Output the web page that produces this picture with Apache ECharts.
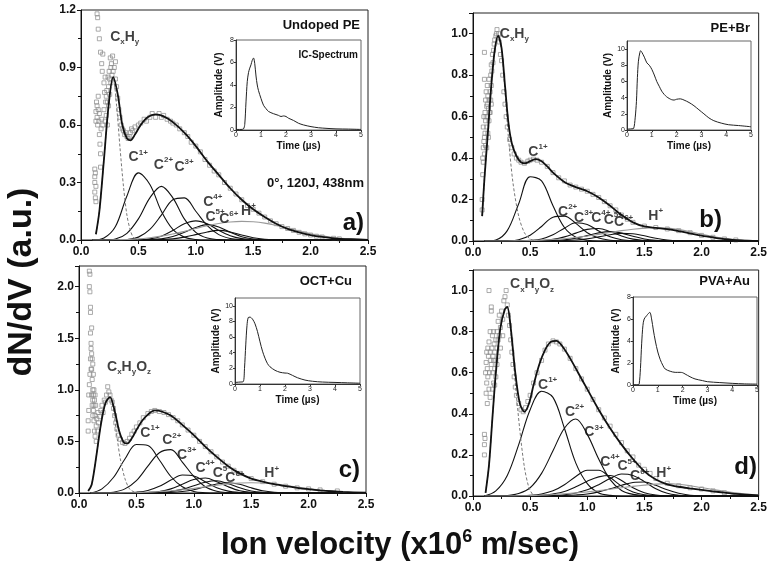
<!DOCTYPE html>
<html><head><meta charset="utf-8">
<script src="https://cdn.jsdelivr.net/npm/echarts@6/dist/echarts.min.js"></script>
<style>html,body{margin:0;padding:0;background:#fff}#c{width:770px;height:564px}</style>
</head><body><div id="c"></div>
<script>
// ---------- DATA ----------
const velX = [0.1,0.2,0.3,0.4,0.5,0.6,0.7,0.8,0.9,1.0,1.1,1.2,1.3,1.4,1.5,1.6,1.7,1.8,1.9,2.0,2.1,2.2,2.3,2.4,2.5];
const xTicks = [0,0.5,1.0,1.5,2.0,2.5];
const timeTicks = [0,1,2,3,4,5];

// Panel a: Undoped PE
const totalA = [[0.13,0.03],[0.16,0.15],[0.2,0.42],[0.24,0.7],[0.28,0.85],[0.32,0.76],[0.36,0.6],[0.4,0.53],[0.43,0.52],[0.47,0.55],[0.52,0.6],[0.58,0.64],[0.65,0.655],[0.72,0.645],[0.8,0.615],[0.9,0.56],[1.0,0.49],[1.1,0.41],[1.2,0.34],[1.3,0.27],[1.4,0.21],[1.5,0.16],[1.6,0.12],[1.7,0.085],[1.8,0.058],[1.9,0.04],[2.0,0.026],[2.1,0.016],[2.2,0.009],[2.35,0.004],[2.5,0.001]];
const cxA = [[0.13,0.03],[0.16,0.15],[0.2,0.42],[0.24,0.7],[0.28,0.85],[0.31,0.7],[0.34,0.48],[0.37,0.28],[0.4,0.13],[0.43,0.05],[0.46,0.01],[0.5,0]];
const c1A = [0,0.01,0.07,0.23,0.35,0.29,0.15,0.055,0.015,0.003,0,0,0,0,0,0,0,0,0,0,0,0,0,0,0];
const c2A = [0,0,0.005,0.035,0.11,0.22,0.28,0.22,0.11,0.04,0.01,0.002,0,0,0,0,0,0,0,0,0,0,0,0,0];
const c3A = [0,0,0,0.003,0.015,0.055,0.13,0.21,0.22,0.15,0.075,0.028,0.008,0.002,0,0,0,0,0,0,0,0,0,0,0];
const c4A = [0,0,0,0,0.002,0.006,0.02,0.05,0.085,0.1,0.085,0.05,0.022,0.007,0.002,0,0,0,0,0,0,0,0,0,0];
const c5A = [0,0,0,0,0,0.002,0.006,0.018,0.04,0.065,0.08,0.068,0.04,0.017,0.005,0.001,0,0,0,0,0,0,0,0,0];
const c6A = [0,0,0,0,0,0,0.002,0.006,0.015,0.028,0.042,0.05,0.042,0.026,0.012,0.004,0.001,0,0,0,0,0,0,0,0];
const hA  = [0,0,0.001,0.003,0.006,0.012,0.02,0.031,0.045,0.06,0.074,0.086,0.094,0.097,0.095,0.088,0.076,0.062,0.047,0.033,0.022,0.013,0.007,0.004,0.002];
const ptsA = [[0.12,0.37],[0.12,0.33],[0.12,0.3],[0.12,0.25],[0.125,0.22],[0.13,0.2],[0.125,0.35],[0.13,0.28],[0.13,0.62],[0.13,0.67],[0.135,0.72],[0.14,0.7],[0.14,0.64],[0.145,0.6],[0.15,0.68],[0.15,0.75],[0.155,0.62],[0.16,0.66],[0.16,0.55],[0.165,0.5],[0.17,0.45],[0.17,0.38],[0.175,0.58],[0.18,0.63],[0.14,1.18],[0.145,1.16],[0.15,1.1],[0.16,1.05],[0.17,0.98],[0.18,0.92],[0.185,0.88],[0.19,0.97],[0.2,0.82],[0.205,0.77],[0.21,0.85],[0.215,0.72],[0.22,0.65],[0.225,0.78],[0.23,0.6],[0.235,0.85],[0.24,0.7],[0.245,0.88],[0.25,0.76],[0.255,0.95],[0.26,0.82],[0.265,0.92],[0.27,0.86],[0.275,0.96],[0.28,0.88],[0.29,0.9],[0.3,0.93],[0.3,0.84],[0.19,0.6],[0.2,0.68],[0.21,0.62],[0.22,0.75],[0.23,0.72],[0.24,0.8],[0.25,0.84],[0.26,0.9],[0.31,0.8],[0.32,0.74],[0.33,0.68],[0.34,0.64],[0.35,0.6],[0.36,0.58],[0.37,0.57],[0.38,0.55],[0.39,0.56],[0.4,0.54],[0.41,0.53],[0.42,0.54],[0.43,0.56],[0.44,0.58],[0.45,0.57],[0.47,0.59],[0.5,0.6],[0.52,0.61],[0.55,0.63],[0.57,0.62],[0.6,0.64],[0.62,0.66],[0.65,0.64],[0.68,0.66],[0.7,0.64],[0.72,0.65],[0.75,0.63],[0.78,0.62],[0.8,0.61],[0.83,0.6],[0.86,0.58],[0.9,0.56],[0.93,0.54],[0.96,0.51],[1.0,0.49],[1.04,0.46],[1.08,0.42],[1.12,0.39],[1.16,0.36],[1.2,0.34],[1.25,0.3],[1.3,0.27],[1.35,0.24],[1.4,0.21],[1.45,0.18],[1.5,0.16],[1.55,0.14],[1.6,0.12],[1.65,0.1],[1.7,0.085],[1.75,0.07],[1.8,0.06],[1.85,0.05],[1.9,0.04],[1.95,0.032],[2.0,0.026],[2.05,0.02],[2.1,0.016],[2.2,0.009],[2.25,0.006]];
const icA = [[0,0.05],[0.2,0.05],[0.3,0.1],[0.35,0.5],[0.4,2.5],[0.45,4.3],[0.5,5.1],[0.55,5.5],[0.6,5.8],[0.65,6.2],[0.7,6.4],[0.75,5.9],[0.8,4.8],[0.85,4.0],[0.9,3.5],[1.0,2.8],[1.1,2.2],[1.2,1.9],[1.3,1.65],[1.5,1.45],[1.7,1.3],[1.8,1.2],[1.9,1.25],[2.0,1.2],[2.1,1.05],[2.3,0.85],[2.5,0.6],[2.7,0.45],[3.0,0.3],[3.3,0.2],[3.6,0.15],[4.0,0.1],[4.5,0.08],[5.0,0.05]];
const labA = [[0.25,1.06,'{b|C}{d|x}{b|H}{d|y}'],[0.41,0.43,'{b|C}{u|1+}'],[0.63,0.39,'{b|C}{u|2+}'],[0.81,0.38,'{b|C}{u|3+}'],[1.06,0.2,'{b|C}{u|4+}'],[1.08,0.12,'{b|C}{u|5+}'],[1.2,0.11,'{b|C}{u|6+}'],[1.39,0.15,'{b|H}{u|+}']];

// Panel b: PE+Br
const totalB = [[0.08,0.12],[0.1,0.3],[0.13,0.52],[0.16,0.75],[0.19,0.92],[0.22,0.99],[0.25,0.93],[0.28,0.75],[0.31,0.57],[0.34,0.47],[0.38,0.41],[0.42,0.38],[0.46,0.375],[0.5,0.385],[0.55,0.395],[0.6,0.385],[0.65,0.36],[0.7,0.33],[0.8,0.285],[0.9,0.26],[1.0,0.24],[1.1,0.21],[1.2,0.17],[1.3,0.125],[1.4,0.09],[1.5,0.07],[1.6,0.063],[1.7,0.057],[1.8,0.048],[1.9,0.037],[2.0,0.026],[2.1,0.017],[2.2,0.009],[2.35,0.003],[2.5,0]];
const cxB = [[0.08,0.12],[0.1,0.3],[0.13,0.52],[0.16,0.75],[0.19,0.92],[0.22,0.99],[0.25,0.92],[0.28,0.72],[0.31,0.5],[0.35,0.28],[0.4,0.12],[0.45,0.04],[0.5,0.01],[0.55,0]];
const c1B = [0,0.005,0.05,0.18,0.31,0.29,0.17,0.065,0.018,0.004,0,0,0,0,0,0,0,0,0,0,0,0,0,0,0];
const c2B = [0,0,0,0.006,0.028,0.07,0.115,0.12,0.085,0.04,0.014,0.004,0,0,0,0,0,0,0,0,0,0,0,0,0];
const c3B = [0,0,0,0,0.003,0.01,0.03,0.062,0.088,0.08,0.048,0.02,0.006,0.001,0,0,0,0,0,0,0,0,0,0,0];
const c4B = [0,0,0,0,0,0.002,0.008,0.02,0.038,0.056,0.06,0.045,0.024,0.009,0.003,0,0,0,0,0,0,0,0,0,0];
const c5B = [0,0,0,0,0,0,0.002,0.006,0.014,0.026,0.039,0.045,0.038,0.023,0.01,0.003,0,0,0,0,0,0,0,0,0];
const c6B = [0,0,0,0,0,0,0,0.002,0.005,0.011,0.02,0.03,0.037,0.035,0.025,0.013,0.005,0.001,0,0,0,0,0,0,0];
const hB  = [0,0,0,0.001,0.002,0.004,0.007,0.011,0.017,0.024,0.032,0.041,0.05,0.057,0.062,0.064,0.062,0.055,0.045,0.033,0.022,0.013,0.006,0.003,0.001];
const ptsB = [[0.08,0.2],[0.08,0.15],[0.085,0.4],[0.09,0.45],[0.09,0.55],[0.095,0.6],[0.1,0.91],[0.1,0.78],[0.1,0.5],[0.105,0.62],[0.11,0.58],[0.11,0.68],[0.115,0.72],[0.12,0.65],[0.12,0.55],[0.125,0.75],[0.13,0.7],[0.13,0.6],[0.135,0.5],[0.14,0.68],[0.14,0.78],[0.145,0.62],[0.15,0.72],[0.155,0.8],[0.16,0.75],[0.16,0.85],[0.165,0.82],[0.17,0.9],[0.175,0.86],[0.18,0.92],[0.185,0.95],[0.19,0.97],[0.085,0.32],[0.09,0.38],[0.095,0.48],[0.1,0.42],[0.105,0.52],[0.11,0.46],[0.115,0.6],[0.12,0.45],[0.125,0.66],[0.13,0.52],[0.135,0.64],[0.14,0.58],[0.15,0.62],[0.155,0.68],[0.16,0.66],[0.2,0.99],[0.205,1.0],[0.21,1.02],[0.22,0.98],[0.225,1.0],[0.23,0.96],[0.24,0.9],[0.25,0.87],[0.26,0.8],[0.27,0.72],[0.28,0.66],[0.29,0.6],[0.3,0.55],[0.32,0.49],[0.34,0.45],[0.36,0.42],[0.38,0.4],[0.4,0.39],[0.42,0.38],[0.45,0.375],[0.48,0.385],[0.5,0.39],[0.53,0.395],[0.56,0.39],[0.6,0.38],[0.65,0.36],[0.7,0.33],[0.75,0.305],[0.8,0.29],[0.85,0.27],[0.9,0.26],[0.95,0.25],[1.0,0.24],[1.05,0.225],[1.1,0.21],[1.15,0.19],[1.2,0.17],[1.25,0.15],[1.3,0.125],[1.35,0.105],[1.4,0.09],[1.5,0.072],[1.6,0.065],[1.7,0.058],[1.8,0.05],[1.9,0.04],[2.0,0.027],[2.1,0.018],[2.2,0.01],[2.3,0.005]];
const icB = [[0,0.1],[0.2,0.15],[0.27,0.2],[0.33,1.5],[0.38,3.5],[0.42,6.5],[0.46,8.5],[0.52,9.6],[0.55,9.8],[0.6,9.6],[0.7,9.0],[0.8,8.3],[0.9,8.0],[1.0,7.5],[1.1,6.8],[1.2,6.0],[1.3,5.4],[1.4,4.8],[1.5,4.4],[1.6,4.1],[1.7,3.9],[1.8,3.75],[1.9,3.7],[2.0,3.8],[2.15,3.85],[2.3,3.7],[2.5,3.4],[2.7,3.0],[2.9,2.5],[3.1,2.0],[3.3,1.5],[3.5,1.15],[3.8,0.85],[4.1,0.65],[4.5,0.55],[5.0,0.4]];
const labB = [[0.23,1.0,'{b|C}{d|x}{b|H}{d|y}'],[0.48,0.43,'{b|C}{u|1+}'],[0.74,0.14,'{b|C}{u|2+}'],[0.88,0.11,'{b|C}{u|3+}'],[1.03,0.11,'{b|C}{u|4+}'],[1.14,0.1,'{b|C}{u|5+}'],[1.23,0.09,'{b|C}{u|6+}'],[1.53,0.12,'{b|H}{u|+}']];

// Panel c: OCT+Cu
const totalC = [[0.08,0.02],[0.11,0.08],[0.15,0.35],[0.19,0.66],[0.23,0.87],[0.27,0.93],[0.31,0.8],[0.35,0.6],[0.39,0.49],[0.42,0.48],[0.46,0.53],[0.5,0.61],[0.55,0.7],[0.6,0.76],[0.66,0.8],[0.72,0.79],[0.8,0.75],[0.9,0.66],[1.0,0.56],[1.1,0.45],[1.2,0.35],[1.3,0.26],[1.4,0.19],[1.5,0.14],[1.6,0.11],[1.7,0.085],[1.8,0.066],[1.9,0.05],[2.0,0.037],[2.1,0.026],[2.2,0.017],[2.3,0.01],[2.5,0.003]];
const cxC = [[0.08,0.02],[0.11,0.08],[0.15,0.35],[0.19,0.66],[0.23,0.87],[0.27,0.93],[0.3,0.8],[0.33,0.55],[0.36,0.33],[0.4,0.14],[0.44,0.04],[0.48,0.01],[0.52,0]];
const c1C = [0,0.04,0.15,0.33,0.47,0.46,0.32,0.16,0.06,0.015,0.003,0,0,0,0,0,0,0,0,0,0,0,0,0,0];
const c2C = [0,0,0.008,0.04,0.12,0.26,0.39,0.42,0.3,0.16,0.06,0.017,0.004,0,0,0,0,0,0,0,0,0,0,0,0];
const c3C = [0,0,0,0.002,0.008,0.025,0.065,0.125,0.175,0.165,0.11,0.05,0.018,0.005,0,0,0,0,0,0,0,0,0,0,0];
const c4C = [0,0,0,0,0.001,0.005,0.015,0.04,0.085,0.13,0.145,0.11,0.06,0.022,0.006,0.001,0,0,0,0,0,0,0,0,0];
const c5C = [0,0,0,0,0,0.002,0.006,0.015,0.035,0.07,0.105,0.118,0.09,0.05,0.02,0.006,0.001,0,0,0,0,0,0,0,0];
const c6C = [0,0,0,0,0,0,0.002,0.006,0.015,0.032,0.06,0.088,0.1,0.085,0.05,0.022,0.007,0.002,0,0,0,0,0,0,0];
const hC  = [0,0,0,0.002,0.004,0.008,0.014,0.022,0.032,0.045,0.06,0.075,0.088,0.097,0.1,0.097,0.088,0.074,0.058,0.043,0.029,0.018,0.01,0.005,0.002];
const ptsC = [[0.08,0.6],[0.08,0.7],[0.085,0.8],[0.09,2.15],[0.095,2.12],[0.09,2.0],[0.095,1.95],[0.1,1.75],[0.1,1.8],[0.1,1.55],[0.105,1.45],[0.105,1.4],[0.11,1.6],[0.11,1.35],[0.11,1.2],[0.115,1.3],[0.115,1.1],[0.12,1.25],[0.12,1.0],[0.12,0.9],[0.125,1.15],[0.125,0.8],[0.13,1.0],[0.13,0.7],[0.135,0.9],[0.135,0.6],[0.14,0.75],[0.14,0.55],[0.145,0.85],[0.15,0.65],[0.15,0.5],[0.155,0.72],[0.16,0.6],[0.165,0.78],[0.17,0.68],[0.085,0.95],[0.09,1.05],[0.095,1.15],[0.1,1.3],[0.105,1.2],[0.11,0.95],[0.115,0.85],[0.12,0.75],[0.125,0.95],[0.13,0.85],[0.14,0.95],[0.18,0.74],[0.19,0.8],[0.2,0.85],[0.21,0.78],[0.22,0.9],[0.23,0.88],[0.24,0.95],[0.25,1.03],[0.26,0.98],[0.27,0.95],[0.28,0.9],[0.29,0.88],[0.3,0.82],[0.31,0.75],[0.32,0.68],[0.33,0.62],[0.34,0.56],[0.36,0.52],[0.38,0.49],[0.4,0.48],[0.42,0.5],[0.44,0.53],[0.46,0.57],[0.48,0.6],[0.5,0.64],[0.53,0.68],[0.56,0.73],[0.6,0.77],[0.63,0.79],[0.66,0.8],[0.7,0.79],[0.74,0.78],[0.78,0.76],[0.82,0.73],[0.86,0.7],[0.9,0.66],[0.95,0.61],[1.0,0.56],[1.05,0.5],[1.1,0.45],[1.15,0.4],[1.2,0.35],[1.25,0.3],[1.3,0.26],[1.35,0.22],[1.4,0.19],[1.5,0.14],[1.6,0.11],[1.7,0.085],[1.8,0.066],[1.9,0.05],[2.0,0.04],[2.1,0.03],[2.25,0.02]];
const icC = [[0,0.2],[0.2,0.25],[0.33,0.3],[0.38,2.0],[0.43,5.0],[0.48,7.5],[0.53,8.5],[0.6,8.55],[0.7,8.3],[0.8,7.7],[0.9,6.7],[1.0,5.4],[1.1,4.2],[1.2,3.3],[1.3,2.6],[1.4,2.2],[1.6,1.75],[1.8,1.5],[2.0,1.4],[2.1,1.38],[2.3,1.1],[2.5,0.8],[2.8,0.5],[3.1,0.35],[3.5,0.25],[4.0,0.2],[4.5,0.15],[5.0,0.1]];
const labC = [[0.24,1.22,'{b|C}{d|x}{b|H}{d|y}{b|O}{d|z}'],[0.53,0.58,'{b|C}{u|1+}'],[0.72,0.51,'{b|C}{u|2+}'],[0.85,0.37,'{b|C}{u|3+}'],[1.01,0.24,'{b|C}{u|4+}'],[1.16,0.19,'{b|C}{u|5}'],[1.27,0.14,'{b|C}{u|6+}'],[1.61,0.19,'{b|H}{u|+}']];

// Panel d: PVA+Au
const totalD = [[0.11,0.015],[0.14,0.15],[0.17,0.38],[0.2,0.6],[0.24,0.82],[0.28,0.91],[0.3,0.92],[0.33,0.82],[0.37,0.6],[0.41,0.45],[0.45,0.41],[0.49,0.45],[0.53,0.54],[0.58,0.64],[0.63,0.71],[0.68,0.75],[0.73,0.755],[0.78,0.73],[0.85,0.67],[0.92,0.6],[1.0,0.52],[1.1,0.42],[1.2,0.33],[1.3,0.25],[1.4,0.18],[1.5,0.12],[1.6,0.08],[1.7,0.057],[1.8,0.045],[1.9,0.037],[2.0,0.03],[2.1,0.023],[2.2,0.016],[2.3,0.01],[2.5,0.003]];
const cxD = [[0.11,0.015],[0.14,0.15],[0.17,0.38],[0.2,0.6],[0.24,0.82],[0.28,0.91],[0.3,0.92],[0.33,0.8],[0.37,0.55],[0.41,0.32],[0.45,0.14],[0.49,0.04],[0.53,0]];
const c1D = [0,0.025,0.1,0.25,0.42,0.51,0.48,0.33,0.16,0.06,0.015,0.003,0,0,0,0,0,0,0,0,0,0,0,0,0];
const c2D = [0,0,0.002,0.012,0.04,0.11,0.22,0.33,0.375,0.3,0.18,0.08,0.027,0.008,0.002,0,0,0,0,0,0,0,0,0,0];
const c3D = [0,0,0,0,0.003,0.01,0.025,0.055,0.095,0.125,0.125,0.09,0.048,0.02,0.006,0.001,0,0,0,0,0,0,0,0,0];
const c4D = [0,0,0,0,0,0.003,0.01,0.022,0.045,0.072,0.093,0.1,0.075,0.04,0.016,0.005,0.001,0,0,0,0,0,0,0,0];
const c5D = [0,0,0,0,0,0,0.002,0.006,0.015,0.03,0.055,0.085,0.107,0.1,0.07,0.035,0.013,0.004,0,0,0,0,0,0,0];
const c6D = [0,0,0,0,0,0,0,0.002,0.005,0.01,0.02,0.035,0.052,0.066,0.068,0.052,0.03,0.013,0.004,0.001,0,0,0,0,0];
const hD  = [0,0,0,0.001,0.002,0.004,0.007,0.011,0.015,0.02,0.026,0.033,0.04,0.047,0.053,0.058,0.06,0.057,0.05,0.041,0.032,0.023,0.015,0.009,0.005];
const ptsD = [[0.1,0.3],[0.1,0.25],[0.1,0.2],[0.105,0.28],[0.11,0.6],[0.115,0.65],[0.12,0.7],[0.12,0.55],[0.125,0.62],[0.13,0.72],[0.13,0.58],[0.135,0.68],[0.14,0.75],[0.14,1.0],[0.145,0.6],[0.15,0.7],[0.15,0.8],[0.155,0.66],[0.16,0.92],[0.16,0.9],[0.165,0.72],[0.17,0.78],[0.17,0.6],[0.175,0.68],[0.18,0.8],[0.18,0.55],[0.185,0.74],[0.19,0.7],[0.19,0.62],[0.2,0.76],[0.2,0.58],[0.21,0.72],[0.21,0.8],[0.22,0.68],[0.22,0.85],[0.23,0.78],[0.23,0.88],[0.24,0.82],[0.25,0.9],[0.26,0.86],[0.27,0.95],[0.28,0.97],[0.29,1.0],[0.115,0.5],[0.125,0.45],[0.14,0.52],[0.15,0.48],[0.16,0.64],[0.17,0.52],[0.18,0.66],[0.19,0.54],[0.2,0.66],[0.21,0.64],[0.22,0.76],[0.24,0.72],[0.26,0.78],[0.3,0.93],[0.31,0.88],[0.32,0.83],[0.33,0.76],[0.34,0.7],[0.35,0.64],[0.36,0.58],[0.37,0.53],[0.38,0.49],[0.4,0.45],[0.42,0.42],[0.44,0.41],[0.46,0.43],[0.48,0.46],[0.5,0.49],[0.53,0.55],[0.56,0.6],[0.6,0.66],[0.63,0.71],[0.66,0.74],[0.7,0.755],[0.73,0.75],[0.76,0.74],[0.8,0.715],[0.85,0.67],[0.9,0.62],[0.95,0.57],[1.0,0.52],[1.05,0.47],[1.1,0.42],[1.15,0.38],[1.2,0.34],[1.25,0.3],[1.3,0.26],[1.35,0.22],[1.4,0.19],[1.45,0.15],[1.5,0.13],[1.55,0.11],[1.6,0.085],[1.7,0.062],[1.8,0.05],[1.9,0.04],[2.0,0.034],[2.1,0.025],[2.2,0.016]];
const icD = [[0,0.02],[0.2,0.02],[0.25,0.1],[0.3,1.5],[0.35,3.8],[0.4,5.4],[0.45,6.0],[0.55,6.3],[0.62,6.5],[0.68,6.6],[0.75,6.0],[0.82,5.0],[0.9,4.0],[1.0,3.0],[1.1,2.3],[1.2,1.8],[1.3,1.45],[1.5,1.25],[1.7,1.15],[1.9,1.15],[2.0,1.12],[2.1,1.0],[2.3,0.75],[2.5,0.55],[2.8,0.4],[3.0,0.3],[3.5,0.22],[4.0,0.15],[4.5,0.1],[5.0,0.08]];
const labD = [[0.32,1.03,'{b|C}{d|x}{b|H}{d|y}{b|O}{d|z}'],[0.565,0.54,'{b|C}{u|1+}'],[0.8,0.41,'{b|C}{u|2+}'],[0.97,0.31,'{b|C}{u|3+}'],[1.11,0.167,'{b|C}{u|4+}'],[1.26,0.143,'{b|C}{u|5+}'],[1.37,0.095,'{b|C}{u|6+}'],[1.6,0.11,'{b|H}{u|+}']];

// ---------- LAYOUT / STYLE ----------
const FONT = '"Liberation Sans", Arial, sans-serif';
const panels = [
  {grid:{left:81,top:10,width:287,height:230}, ymax:1.2, yint:0.3, tot:totalA, cx:cxA, comps:[c1A,c2A,c3A,c4A,c5A,c6A], h:hA, pts:ptsA, labs:labA,
   inset:{left:236,top:40,width:125,height:90}, imax:8, ic:icA},
  {grid:{left:473,top:13,width:289,height:228}, ymax:1.1, yint:0.2, tot:totalB, cx:cxB, comps:[c1B,c2B,c3B,c4B,c5B,c6B], h:hB, pts:ptsB, labs:labB,
   inset:{left:627,top:41,width:124,height:89}, imax:11, ic:icB},
  {grid:{left:79,top:266,width:287,height:227}, ymax:2.2, yint:0.5, tot:totalC, cx:cxC, comps:[c1C,c2C,c3C,c4C,c5C,c6C], h:hC, pts:ptsC, labs:labC,
   inset:{left:235,top:298,width:125,height:86}, imax:11, ic:icC},
  {grid:{left:473,top:270,width:289,height:226}, ymax:1.1, yint:0.2, tot:totalD, cx:cxD, comps:[c1D,c2D,c3D,c4D,c5D,c6D], h:hD, pts:ptsD, labs:labD,
   inset:{left:633,top:297,width:124,height:88}, imax:8, ic:icD}
];

const grids=[], xAxes=[], yAxes=[], series=[];
const rich = {
  b:{fontSize:14,fontWeight:'bold',fontFamily:FONT,color:'#111',lineHeight:18},
  u:{fontSize:8,fontWeight:'bold',fontFamily:FONT,color:'#111',lineHeight:8,verticalAlign:'top'},
  d:{fontSize:8,fontWeight:'bold',fontFamily:FONT,color:'#111',lineHeight:8,verticalAlign:'bottom'}
};
panels.forEach((p,i)=>{
  const gi = grids.length;
  grids.push(Object.assign({show:true,borderColor:'#222',borderWidth:1,backgroundColor:'#fff'},p.grid));
  xAxes.push({gridIndex:gi,type:'value',min:0,max:2.5,interval:0.5,
    axisLine:{onZero:false,lineStyle:{color:'#111',width:1}},
    axisTick:{show:true,length:4,lineStyle:{color:'#111'}},
    minorTick:{show:true,splitNumber:2,length:3,lineStyle:{color:'#111'}},
    splitLine:{show:false},
    axisLabel:{fontSize:12,fontWeight:'bold',fontFamily:FONT,color:'#111',margin:6,formatter:v=>v.toFixed(1)}});
  yAxes.push({gridIndex:gi,type:'value',min:0,max:p.ymax,interval:p.yint,
    axisLine:{onZero:false,lineStyle:{color:'#111',width:1}},
    axisTick:{show:true,length:4,lineStyle:{color:'#111'}},
    minorTick:{show:true,splitNumber:2,length:3,lineStyle:{color:'#111'}},
    splitLine:{show:false},
    axisLabel:{fontSize:12,fontWeight:'bold',fontFamily:FONT,color:'#111',margin:5,showMaxLabel:Math.abs(p.ymax/p.yint-Math.round(p.ymax/p.yint))<1e-6,formatter:v=>v.toFixed(1)}});
  // scatter data (open grey squares)
  series.push({type:'scatter',xAxisIndex:gi,yAxisIndex:gi,data:p.pts,symbol:'rect',symbolSize:4,
    itemStyle:{color:'rgba(255,255,255,0)',borderColor:'#8a8a8a',borderWidth:0.9},silent:true,z:2});
  // components
  p.comps.forEach(c=>series.push({type:'line',xAxisIndex:gi,yAxisIndex:gi,data:velX.map((x,k)=>[x,c[k]]),
    showSymbol:false,smooth:0.35,lineStyle:{color:'#111',width:1.1},silent:true,z:3}));
  series.push({type:'line',xAxisIndex:gi,yAxisIndex:gi,data:velX.map((x,k)=>[x,p.h[k]]),
    showSymbol:false,smooth:0.35,lineStyle:{color:'#9a9a9a',width:1.1},silent:true,z:3});
  series.push({type:'line',xAxisIndex:gi,yAxisIndex:gi,data:p.cx,
    showSymbol:false,smooth:0.3,lineStyle:{color:'#777',width:1,type:[3,2]},silent:true,z:3});
  // total fit
  series.push({type:'line',xAxisIndex:gi,yAxisIndex:gi,data:p.tot,
    showSymbol:false,smooth:0.3,lineStyle:{color:'#111',width:1.8},silent:true,z:4});
  // labels
  series.push({type:'scatter',xAxisIndex:gi,yAxisIndex:gi,symbolSize:1,itemStyle:{color:'rgba(0,0,0,0)'},silent:true,z:6,
    data:p.labs.map(l=>({value:[l[0],l[1]],name:l[2]})),
    label:{show:true,position:'right',distance:0,formatter:q=>q.name,rich:rich}});
  // inset
  const ii = grids.length;
  grids.push(Object.assign({show:true,borderColor:'#666',borderWidth:1,backgroundColor:'#fff',z:5},p.inset));
  xAxes.push({gridIndex:ii,type:'value',min:0,max:5,interval:1,z:5,
    name:'Time (\u00b5s)',nameLocation:'middle',nameGap:11,nameTextStyle:{fontSize:10,fontWeight:'bold',fontFamily:FONT,color:'#111'},
    axisLine:{onZero:false,lineStyle:{color:'#333',width:1}},
    axisTick:{show:true,length:2,lineStyle:{color:'#333'}},splitLine:{show:false},
    axisLabel:{fontSize:7,fontFamily:FONT,color:'#222',margin:2}});
  yAxes.push({gridIndex:ii,type:'value',min:0,max:p.imax,interval:2,z:5,
    name:'Amplitude (V)',nameLocation:'middle',nameGap:12,nameTextStyle:{fontSize:10,fontWeight:'bold',fontFamily:FONT,color:'#111'},
    axisLine:{onZero:false,lineStyle:{color:'#333',width:1}},
    axisTick:{show:true,length:2,lineStyle:{color:'#333'}},splitLine:{show:false},
    axisLabel:{fontSize:7,fontFamily:FONT,color:'#222',margin:2,showMaxLabel:p.imax%2===0}});
  series.push({type:'line',xAxisIndex:ii,yAxisIndex:ii,data:p.ic,showSymbol:false,smooth:0.3,
    lineStyle:{color:'#222',width:1},silent:true,z:6});
});

function txt(t,x,y,size,align,extra){
  return Object.assign({type:'text',x:x,y:y,z:100,style:{text:t,fill:'#111',fontSize:size,fontWeight:'bold',fontFamily:FONT,align:align||'right',verticalAlign:'middle'}},extra||{});
}
const graphics = [
  txt('Undoped PE',360,25,13),
  txt('PE+Br',750,28,13),
  txt('OCT+Cu',352,281,13),
  txt('PVA+Au',750,281,13),
  txt('a)',364,223,24),
  txt('b)',722,220,24),
  txt('c)',360,470,24),
  txt('d)',757,467,24),
  txt('0\u00b0, 120J, 438nm',364,183,13),
  txt('IC-Spectrum',358,55,10),
  {type:'text',x:22,y:282,rotation:Math.PI/2,z:100,style:{text:'dN/dV (a.u.)',fill:'#111',fontSize:34,fontWeight:'bold',fontFamily:FONT,align:'center',verticalAlign:'middle'}},
  {type:'text',x:400,y:545,z:100,style:{text:'{m|Ion velocity (x10}{s|6}{m| m/sec)}',align:'center',verticalAlign:'middle',
    rich:{m:{fontSize:31,fontWeight:'bold',fontFamily:FONT,fill:'#111',color:'#111',lineHeight:34},
          s:{fontSize:18,fontWeight:'bold',fontFamily:FONT,fill:'#111',color:'#111',lineHeight:16,verticalAlign:'top'}}}}
];

const chart = echarts.init(document.getElementById('c'),null,{renderer:'canvas'});
chart.setOption({animation:false,backgroundColor:'#fff',grid:grids,xAxis:xAxes,yAxis:yAxes,series:series,graphic:graphics});
</script></body></html>
